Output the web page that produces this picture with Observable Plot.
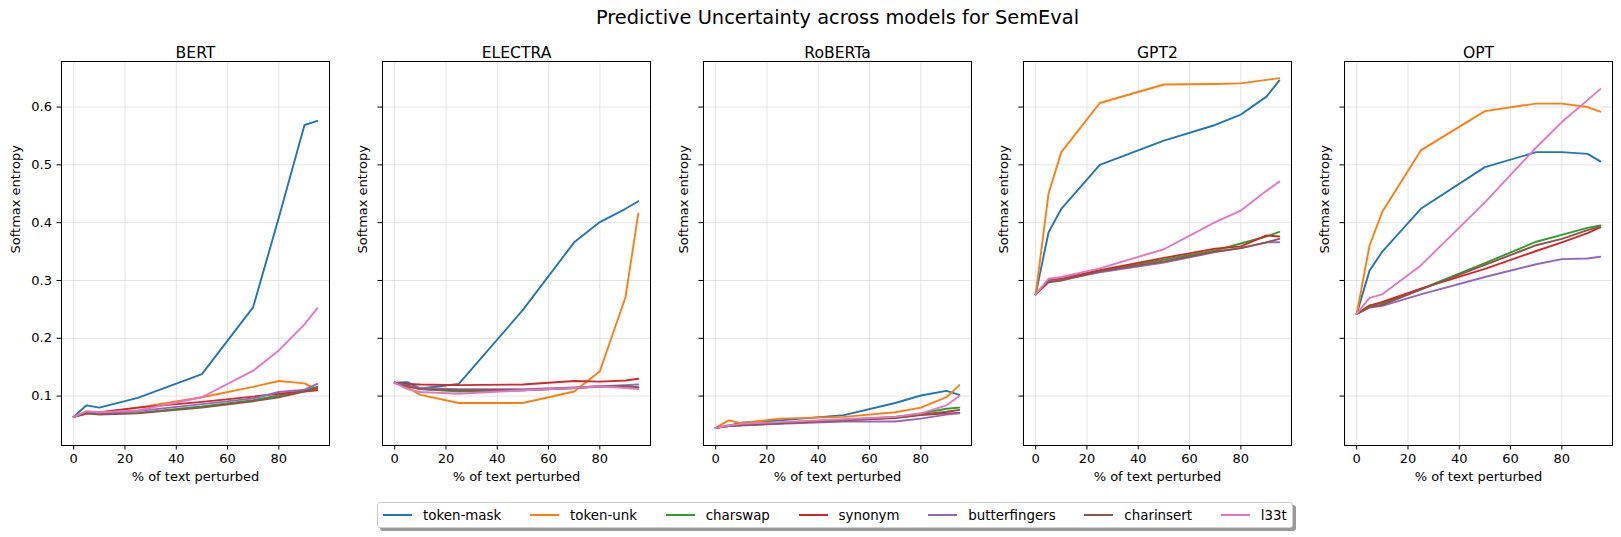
<!DOCTYPE html>
<html><head><meta charset="utf-8">
<script src="https://cdn.jsdelivr.net/npm/d3@7"></script>
<script src="https://cdn.jsdelivr.net/npm/@observablehq/plot@0.6"></script>
<style>
body{margin:0;background:#fff;font-family:"DejaVu Sans",sans-serif;}
#fig{position:relative;width:1621px;height:537px;overflow:hidden;background:#fff;}
.panel{position:absolute;top:0;}
#title{position:absolute;top:8px;left:27px;width:1621px;text-align:center;font-size:19.4px;line-height:20px;color:#000;}
#legend{position:absolute;left:377px;top:502px;height:24px;display:flex;align-items:center;padding:0 5px;border:1px solid #cfcfcf;border-radius:3px;background:#fff;box-shadow:3px 3px 0 #9a9a9a;font-size:13.4px;}
.item{display:flex;align-items:center;margin-right:28.7px;}
.item:last-child{margin-right:0;}
.item svg{margin-right:11px;}
</style></head><body>
<div id="fig"><div id="title">Predictive Uncertainty across models for SemEval</div></div>
<script>
const pct = [0, 5, 10, 25, 50, 70, 80, 90, 95];
const methods = ["token-mask", "token-unk", "charswap", "synonym", "butterfingers", "charinsert", "l33t"];
const colors = ["#1f77b4", "#ff7f0e", "#2ca02c", "#d62728", "#9467bd", "#8c564b", "#e377c2"];
const models = ["BERT", "ELECTRA", "RoBERTa", "GPT2", "OPT"];
const yTicks = [0.1, 0.2, 0.3, 0.4, 0.5, 0.6];
const xTicks = [0, 20, 40, 60, 80];

// rows follow `methods` order, columns follow `pct`
const bertValues = [
  [0.064, 0.084, 0.080, 0.097, 0.138, 0.254, 0.409, 0.569, 0.576],
  [0.064, 0.069, 0.071, 0.080, 0.098, 0.116, 0.126, 0.122, 0.111],
  [0.064, 0.071, 0.069, 0.071, 0.082, 0.093, 0.101, 0.110, 0.116],
  [0.064, 0.071, 0.072, 0.080, 0.090, 0.099, 0.104, 0.108, 0.110],
  [0.064, 0.072, 0.070, 0.074, 0.086, 0.096, 0.107, 0.111, 0.121],
  [0.064, 0.070, 0.068, 0.070, 0.080, 0.091, 0.098, 0.108, 0.114],
  [0.064, 0.074, 0.072, 0.075, 0.098, 0.144, 0.179, 0.224, 0.252]
];
const electraValues = [
  [0.123, 0.124, 0.113, 0.121, 0.249, 0.366, 0.401, 0.424, 0.437],
  [0.123, 0.115, 0.102, 0.088, 0.088, 0.108, 0.143, 0.271, 0.416],
  [0.123, 0.117, 0.112, 0.108, 0.110, 0.114, 0.116, 0.118, 0.115],
  [0.123, 0.121, 0.120, 0.119, 0.120, 0.126, 0.125, 0.127, 0.130],
  [0.123, 0.118, 0.114, 0.112, 0.112, 0.115, 0.117, 0.119, 0.120],
  [0.123, 0.117, 0.112, 0.110, 0.110, 0.114, 0.117, 0.117, 0.115],
  [0.123, 0.112, 0.107, 0.104, 0.110, 0.114, 0.117, 0.114, 0.112]
];
const robertaValues = [
  [0.045, 0.049, 0.054, 0.058, 0.067, 0.088, 0.101, 0.109, 0.102],
  [0.045, 0.058, 0.053, 0.061, 0.064, 0.072, 0.080, 0.098, 0.119],
  [0.045, 0.048, 0.051, 0.054, 0.059, 0.064, 0.070, 0.078, 0.080],
  [0.045, 0.048, 0.050, 0.053, 0.058, 0.062, 0.067, 0.070, 0.071],
  [0.045, 0.048, 0.049, 0.052, 0.056, 0.056, 0.061, 0.068, 0.070],
  [0.045, 0.048, 0.050, 0.053, 0.058, 0.063, 0.068, 0.073, 0.076],
  [0.045, 0.049, 0.052, 0.055, 0.060, 0.064, 0.070, 0.084, 0.100]
];
const gpt2Values = [
  [0.276, 0.383, 0.424, 0.500, 0.542, 0.569, 0.587, 0.618, 0.646],
  [0.276, 0.450, 0.522, 0.607, 0.639, 0.640, 0.641, 0.647, 0.650],
  [0.276, 0.299, 0.302, 0.317, 0.336, 0.352, 0.364, 0.376, 0.384],
  [0.276, 0.301, 0.303, 0.318, 0.339, 0.355, 0.359, 0.378, 0.376],
  [0.276, 0.298, 0.301, 0.314, 0.331, 0.349, 0.356, 0.366, 0.366],
  [0.276, 0.297, 0.300, 0.316, 0.333, 0.350, 0.356, 0.366, 0.372],
  [0.276, 0.303, 0.306, 0.321, 0.354, 0.401, 0.421, 0.455, 0.471]
];
const optValues = [
  [0.242, 0.317, 0.350, 0.424, 0.496, 0.522, 0.522, 0.519, 0.506],
  [0.242, 0.360, 0.419, 0.525, 0.593, 0.606, 0.606, 0.600, 0.592],
  [0.242, 0.257, 0.261, 0.285, 0.330, 0.367, 0.379, 0.391, 0.395],
  [0.242, 0.256, 0.263, 0.286, 0.320, 0.351, 0.366, 0.382, 0.392],
  [0.242, 0.253, 0.256, 0.276, 0.306, 0.328, 0.337, 0.338, 0.341],
  [0.242, 0.254, 0.258, 0.284, 0.327, 0.361, 0.372, 0.387, 0.393],
  [0.242, 0.270, 0.276, 0.326, 0.435, 0.530, 0.574, 0.612, 0.631]
];
const modelValues = [bertValues, electraValues, robertaValues, gpt2Values, optValues];

const fig = document.getElementById("fig");
const svgLefts = [0, 321, 642, 962, 1283];

models.forEach((model, i) => {
  const rows = [];
  modelValues[i].forEach((series, m) => {
    series.forEach((v, k) => rows.push({method: methods[m], pct: pct[k], value: v}));
  });
  const chart = Plot.plot({
    width: 331,
    height: 490,
    marginLeft: 61,
    marginRight: 2,
    marginTop: 61,
    marginBottom: 45,
    style: {fontFamily: "DejaVu Sans", fontSize: "13px", color: "#000", background: "transparent", overflow: "visible"},
    x: {domain: [-4.75, 99.75]},
    y: {domain: [0.0145, 0.6788]},
    color: {domain: methods, range: colors},
    marks: [
      Plot.gridX(xTicks, {stroke: "#dddddd", strokeOpacity: 1, strokeWidth: 0.8}),
      Plot.gridY(yTicks, {stroke: "#dddddd", strokeOpacity: 1, strokeWidth: 0.8}),
      Plot.axisX({ticks: xTicks, tickSize: 4.5, tickPadding: 4, label: null, stroke: "#000"}),
      Plot.axisY({ticks: yTicks, tickSize: 4.5, tickPadding: 5, label: null, stroke: "#000",
        tickFormat: i === 0 ? d3.format(".1f") : () => ""}),
      Plot.line(rows, {x: "pct", y: "value", stroke: "method", z: "method", strokeWidth: 1.9}),
      Plot.frame({stroke: "#000", strokeWidth: 1}),
      Plot.text([model], {text: d => d, frameAnchor: "top", dy: -15, fontSize: 15.6}),
      Plot.text(["% of text perturbed"], {text: d => d, frameAnchor: "bottom", dy: 35, fontSize: 13}),
      Plot.text(["Softmax entropy"], {text: d => d, frameAnchor: "left", dx: i === 0 ? -46 : -20, rotate: -90, fontSize: 13})
    ]
  });
  chart.classList.add("panel");
  chart.style.left = svgLefts[i] + "px";
  chart.style.position = "absolute";
  chart.style.top = "0px";
  fig.appendChild(chart);
});

const legend = document.createElement("div");
legend.id = "legend";
methods.forEach((m, i) => {
  const item = document.createElement("div");
  item.className = "item";
  item.innerHTML = `<svg width="29" height="4"><line x1="0" y1="2" x2="29" y2="2" stroke="${colors[i]}" stroke-width="2"/></svg><span>${m}</span>`;
  legend.appendChild(item);
});
fig.appendChild(legend);
</script>
</body></html>
